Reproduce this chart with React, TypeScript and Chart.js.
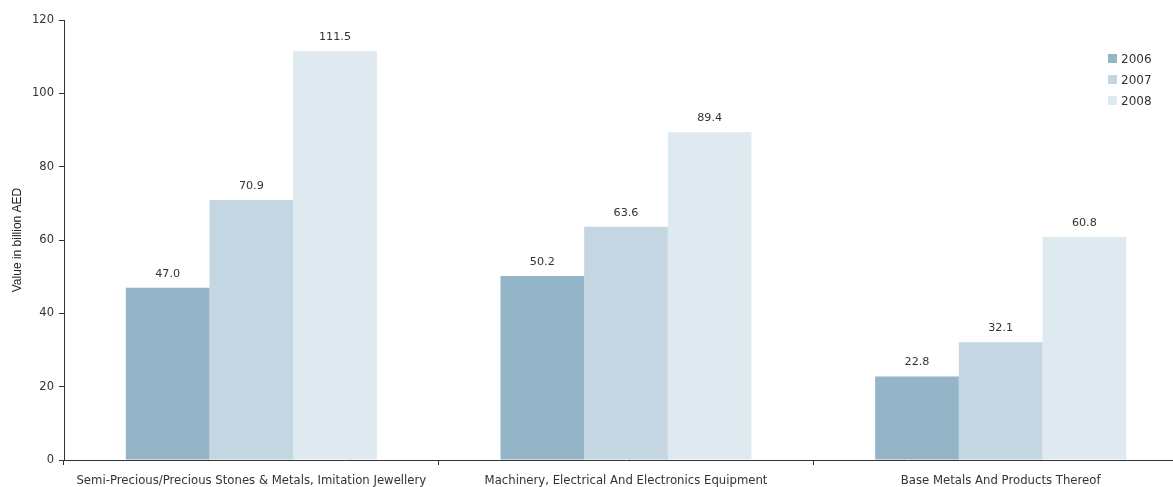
import React, { useEffect, useRef } from "react";
import { Chart, registerables } from "chart.js";

Chart.register(...registerables);

const categories = [
  "Semi-Precious/Precious Stones & Metals, Imitation Jewellery",
  "Machinery, Electrical And Electronics Equipment",
  "Base Metals And Products Thereof",
];
const years = ["2006", "2007", "2008"];
const values2006 = [47.0, 50.2, 22.8];
const values2007 = [70.9, 63.6, 32.1];
const values2008 = [111.5, 89.4, 60.8];
const yTicks = [0, 20, 40, 60, 80, 100, 120];
const yTitle = "Value in billion AED";

const colors = ["#93b5c7", "#c4d6e1", "#dee9f0"];
const FONT = "'DejaVu Sans', Verdana, sans-serif";
const TITLE_FONT = "'Liberation Sans', Arial, sans-serif";
const TEXT = "#333333";

// Prints each bar's value just above its top edge
const valueLabels = {
  id: "valueLabels",
  afterDatasetsDraw(chart: any) {
    const ctx = chart.ctx;
    ctx.save();
    ctx.font = `11.2px ${FONT}`;
    ctx.fillStyle = TEXT;
    ctx.textAlign = "center";
    ctx.textBaseline = "middle";
    chart.data.datasets.forEach((ds: any, di: number) => {
      const meta = chart.getDatasetMeta(di);
      meta.data.forEach((bar: any, i: number) => {
        ctx.fillText(Number(ds.data[i]).toFixed(1), bar.x, bar.y - 14);
      });
    });
    ctx.restore();
  },
};

export default function App() {
  const ref = useRef<HTMLCanvasElement>(null);

  useEffect(() => {
    if (!ref.current) return;
    const series = [values2006, values2007, values2008];
    const chart = new Chart(ref.current, {
      type: "bar",
      data: {
        labels: categories,
        datasets: years.map((y, i) => ({
          label: y,
          data: series[i],
          backgroundColor: colors[i],
          borderWidth: 0,
          categoryPercentage: 0.67,
          barPercentage: 1.0,
        })),
      },
      options: {
        animation: false,
        responsive: true,
        maintainAspectRatio: false,
        layout: { padding: { top: 20, right: 0, bottom: 0, left: 0 } },
        plugins: { legend: { display: false }, tooltip: { enabled: false } },
        scales: {
          x: {
            offset: true,
            grid: {
              display: true,
              offset: true,
              drawOnChartArea: false,
              drawTicks: true,
              tickLength: 5,
              color: TEXT,
            },
            border: { display: true, color: TEXT, width: 1 },
            ticks: {
              color: TEXT,
              font: { family: FONT, size: 11.7 },
              padding: 9,
              maxRotation: 0,
              autoSkip: false,
            },
            afterFit(scale: any) {
              scale.height = 27;
            },
          },
          y: {
            min: 0,
            max: 120,
            afterBuildTicks(scale: any) {
              scale.ticks = yTicks.map((v) => ({ value: v }));
            },
            grid: {
              display: true,
              drawOnChartArea: false,
              drawTicks: true,
              tickLength: 5,
              color: TEXT,
            },
            border: { display: true, color: TEXT, width: 1 },
            ticks: {
              color: TEXT,
              font: { family: FONT, size: 11.5 },
              padding: 5,
            },
            title: {
              display: true,
              text: yTitle,
              color: "#222222",
              font: { family: TITLE_FONT, size: 12 },
              padding: { top: 10, bottom: 0 },
            },
            afterFit(scale: any) {
              scale.width = 64;
            },
          },
        },
      },
      plugins: [valueLabels],
    });
    return () => chart.destroy();
  }, []);

  return (
    <div
      style={{
        position: "absolute",
        left: 0,
        top: 0,
        width: 1173,
        height: 487,
        overflow: "hidden",
        background: "#ffffff",
      }}
    >
      <div style={{ position: "relative", width: 1188, height: 487 }}>
        <canvas ref={ref} />
      </div>
      <div
        style={{
          position: "absolute",
          left: 1108,
          top: 48,
          fontFamily: FONT,
          fontSize: 12,
          color: TEXT,
        }}
      >
        {years.map((y, i) => (
          <div
            key={y}
            style={{ display: "flex", alignItems: "center", height: 21 }}
          >
            <span
              style={{
                display: "inline-block",
                width: 9,
                height: 9,
                background: colors[i],
                marginRight: 4,
              }}
            />
            <span>{y}</span>
          </div>
        ))}
      </div>
    </div>
  );
}
